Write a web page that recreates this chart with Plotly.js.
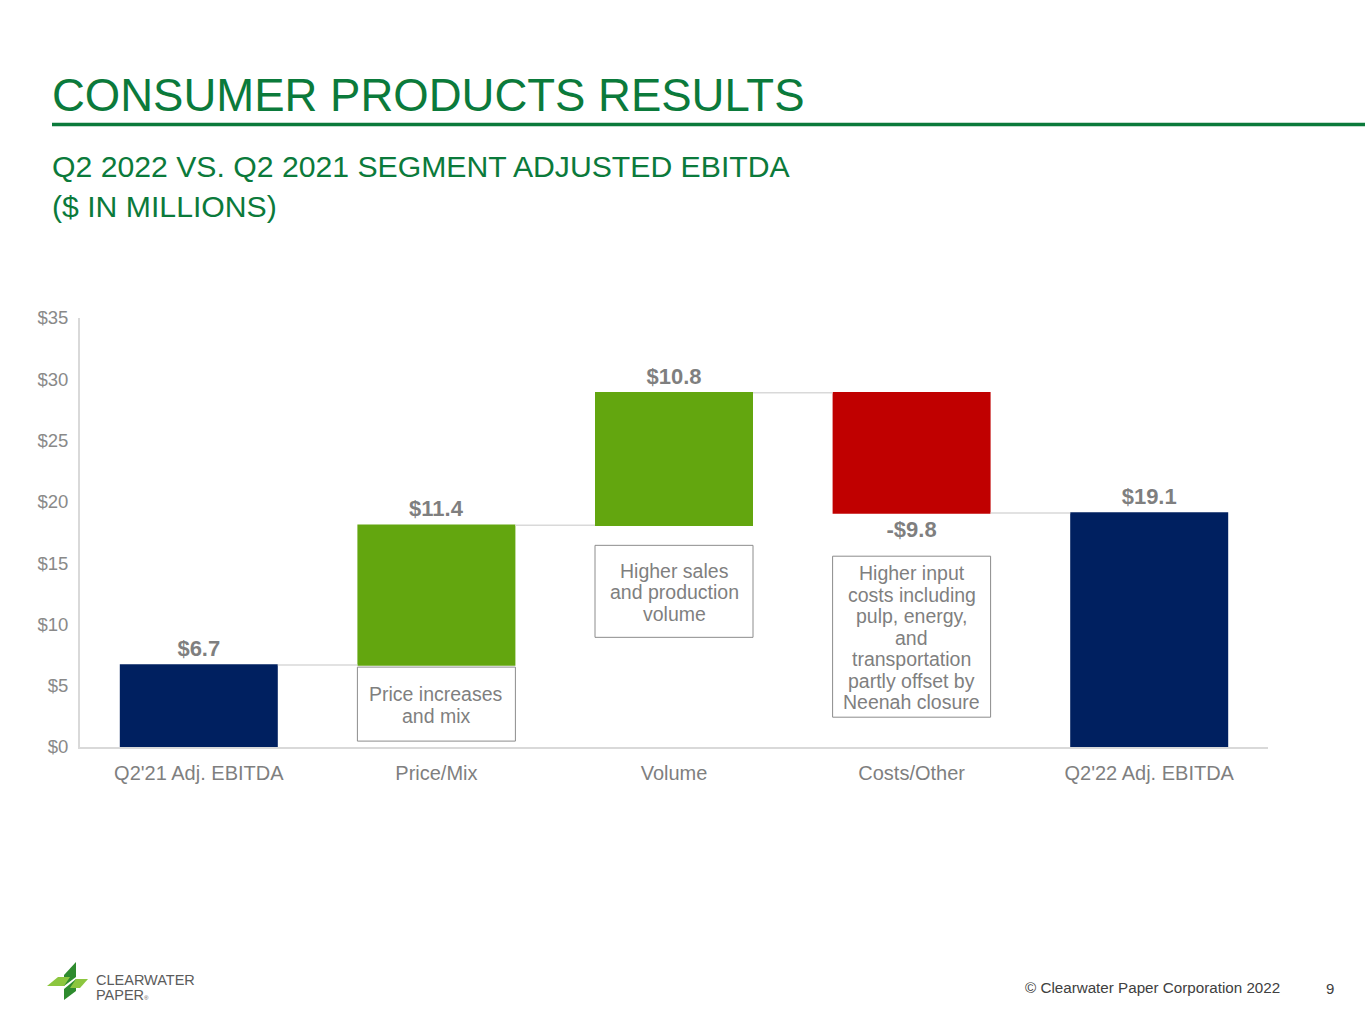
<!DOCTYPE html>
<html>
<head>
<meta charset="utf-8">
<script src="https://cdn.plot.ly/plotly-3.0.1.min.js"></script>
<style>
  html, body { margin: 0; padding: 0; background: #fff; }
  #graph { width: 1365px; height: 1024px; }
</style>
</head>
<body>
<div id="graph"></div>
<script>
// chart data
var categories = ["Q2'21 Adj. EBITDA", "Price/Mix", "Volume", "Costs/Other", "Q2'22 Adj. EBITDA"];
var measures   = ["absolute", "relative", "relative", "relative", "total"];
var values     = [6.7, 11.4, 10.8, -9.8, 0];
var notes      = [null,
                  ["Price increases", "and mix"],
                  ["Higher sales", "and production", "volume"],
                  ["Higher input", "costs including", "pulp, energy,", "and", "transportation", "partly offset by", "Neenah closure"],
                  null];
var noteY      = [null, 3.5, 12.7, 9.0, null];   // centre of each note box, in $M
var yTicks     = [0, 5, 10, 15, 20, 25, 30, 35];

// note box sizes (px) and line spacing
var noteBoxH = [0, 74, 92, 161, 0];
var noteBoxW = 158;
var noteLine = 21.5;

var W = 1365, H = 1024;
function px(x) { return x / W; }
function py(y) { return 1 - y / H; }

// value labels
var total = 0;
var labels = values.map(function (v, i) {
  if (measures[i] === 'total') v = total;
  else if (measures[i] === 'absolute') total = v;
  else total += v;
  var s = (v < 0 ? '-$' : '$') + Math.abs(v).toFixed(1);
  return '<b>' + s + '</b>';
});

var green = '#0b7a3b';
var grey = '#898989';

var trace = {
  type: 'waterfall',
  x: categories,
  y: values,
  measure: measures,
  text: labels,
  textposition: 'outside',
  textfont: { family: 'Liberation Sans, Arial, sans-serif', size: 22, color: '#7f7f7f' },
  cliponaxis: false,
  increasing: { marker: { color: '#63a60f' } },
  decreasing: { marker: { color: '#c00000' } },
  totals: { marker: { color: '#002060' } },
  connector: { line: { color: '#d9d9d9', width: 1.5 } },
  hoverinfo: 'skip'
};

var annotations = [
  { text: 'CONSUMER PRODUCTS RESULTS', x: px(50), y: py(95), xanchor: 'left', yanchor: 'middle',
    font: { size: 45.5, color: green } },
  { text: 'Q2 2022 VS. Q2 2021 SEGMENT ADJUSTED EBITDA', x: px(50), y: py(166), xanchor: 'left', yanchor: 'middle',
    font: { size: 30.2, color: green } },
  { text: '($ IN MILLIONS)', x: px(50), y: py(206), xanchor: 'left', yanchor: 'middle',
    font: { size: 30.2, color: green } },
  { text: '\u00a9 Clearwater Paper Corporation 2022', x: px(1282), y: py(987), xanchor: 'right', yanchor: 'middle',
    font: { size: 15.2, color: '#404040' } },
  { text: '9', x: px(1336), y: py(988), xanchor: 'right', yanchor: 'middle',
    font: { size: 15, color: '#404040' } },
  { text: 'CLEARWATER', x: px(94), y: py(980), xanchor: 'left', yanchor: 'middle',
    font: { size: 14.5, color: '#5b5b5b' } },
  { text: 'PAPER<span style="font-size:6px">\u00ae</span>', x: px(94), y: py(995), xanchor: 'left', yanchor: 'middle',
    font: { size: 14.5, color: '#5b5b5b' } }
];

var shapes = [
  // rule under the title
  { type: 'line', xref: 'paper', yref: 'paper', x0: px(52), x1: 1, y0: py(124.5), y1: py(124.5),
    line: { color: green, width: 3.5 } },
  // logo mark
  { type: 'path', xref: 'paper', yref: 'paper', fillcolor: '#2e8b2e', line: { width: 0 },
    path: 'M ' + px(64) + ',' + py(975) + ' L ' + px(76) + ',' + py(962) + ' L ' + px(76) + ',' + py(977) + ' L ' + px(64) + ',' + py(986) + ' Z' },
  { type: 'path', xref: 'paper', yref: 'paper', fillcolor: '#8cc63f', line: { width: 0 },
    path: 'M ' + px(47) + ',' + py(986) + ' L ' + px(58) + ',' + py(977) + ' L ' + px(70) + ',' + py(977) + ' L ' + px(64) + ',' + py(986) + ' Z' },
  { type: 'path', xref: 'paper', yref: 'paper', fillcolor: '#2e8b2e', line: { width: 0 },
    path: 'M ' + px(64) + ',' + py(989) + ' L ' + px(76) + ',' + py(979) + ' L ' + px(76) + ',' + py(991) + ' L ' + px(64) + ',' + py(1000) + ' Z' },
  { type: 'path', xref: 'paper', yref: 'paper', fillcolor: '#8cc63f', line: { width: 0 },
    path: 'M ' + px(76) + ',' + py(979) + ' L ' + px(88) + ',' + py(979) + ' L ' + px(80) + ',' + py(988) + ' L ' + px(70) + ',' + py(988) + ' Z' }
];

// note boxes and their text lines
notes.forEach(function (lines, i) {
  if (!lines) return;
  shapes.push({
    type: 'rect', xref: 'x', yref: 'y',
    xsizemode: 'pixel', ysizemode: 'pixel', xanchor: i, yanchor: noteY[i],
    x0: -noteBoxW / 2, x1: noteBoxW / 2, y0: -noteBoxH[i] / 2, y1: noteBoxH[i] / 2,
    line: { color: '#8c8c8c', width: 1 }, fillcolor: 'rgba(255,255,255,0)'
  });
  lines.forEach(function (t, k) {
    annotations.push({
      text: t, x: categories[i], y: noteY[i], xref: 'x', yref: 'y',
      showarrow: false, xanchor: 'center', yanchor: 'middle',
      yshift: ((lines.length - 1) / 2 - k) * noteLine - 1,
      font: { size: 19.5, color: '#7f7f7f' }
    });
  });
});

annotations.forEach(function (a) {
  if (!a.xref) { a.xref = 'paper'; a.yref = 'paper'; }
  a.showarrow = false;
});

var layout = {
  width: W, height: H,
  margin: { l: 0, r: 0, t: 0, b: 0 },
  paper_bgcolor: '#ffffff', plot_bgcolor: '#ffffff',
  font: { family: 'Liberation Sans, Arial, sans-serif', color: grey },
  showlegend: false,
  hovermode: false,
  waterfallgap: 0.335,
  xaxis: {
    domain: [px(80), px(1268)],
    showline: true, linecolor: '#d9d9d9', linewidth: 2,
    showgrid: false, zeroline: false,
    ticks: '', ticklabelstandoff: 7,
    tickfont: { size: 20, color: '#7f7f7f' }
  },
  yaxis: {
    domain: [py(747), py(318)],
    range: [0, 35],
    tickvals: yTicks,
    ticktext: yTicks.map(function (v) { return '$' + v; }),
    showline: true, linecolor: '#d9d9d9', linewidth: 2,
    showgrid: false, zeroline: false,
    ticks: '', ticklabelstandoff: 6,
    tickfont: { size: 18.5, color: grey }
  },
  annotations: annotations,
  shapes: shapes
};

Plotly.newPlot('graph', [trace], layout, { staticPlot: true, displayModeBar: false });
</script>
</body>
</html>
